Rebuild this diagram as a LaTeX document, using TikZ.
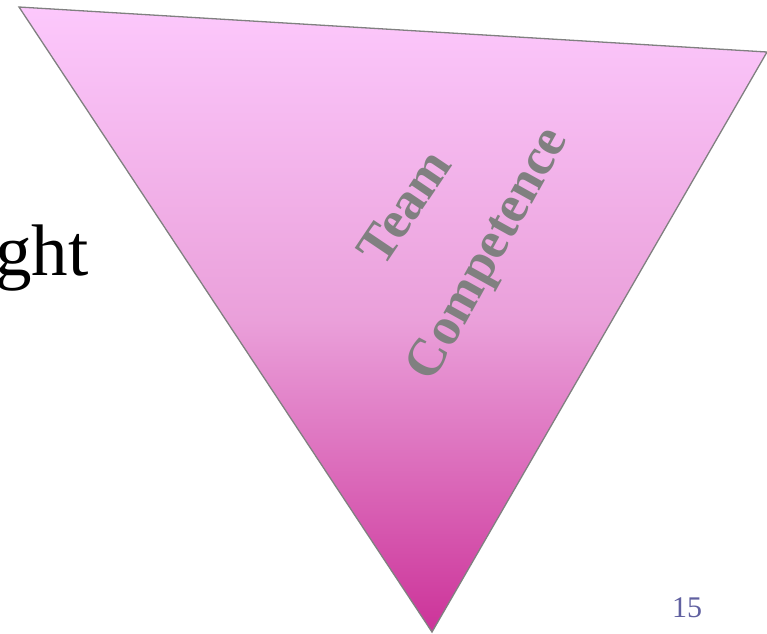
\documentclass[tikz,border=0pt]{standalone}
\usepackage{fontspec}
\setmainfont{Liberation Serif}
\usepackage{xcolor}
\usetikzlibrary{calc}
\definecolor{pinktop}{RGB}{252,200,252}
\definecolor{pinkmid}{RGB}{234,160,218}
\definecolor{pinkbot}{RGB}{204,51,153}
\definecolor{labelgray}{RGB}{128,128,128}
\definecolor{slidenum}{RGB}{96,96,160}
\tikzset{
	wordlabel/.style={text=labelgray,font=\fontsize{53}{57}\selectfont\bfseries,inner sep=0pt},
}

\begin{document}
\begin{tikzpicture}[x=1pt,y=1pt]
		\useasboundingbox (0,0) rectangle (767,-633);
		% corners of the funnel
		\coordinate (tl) at (19,-7);
		\coordinate (tr) at (767,-52);
		\coordinate (bot) at (432,-632);
		\draw[draw=labelgray,line width=1.3pt,top color=pinktop,bottom color=pinkbot,middle color=pinkmid]
			(tl) -- (tr) -- (bot) -- cycle;
		\node[wordlabel,rotate=56] (team) at (404,-207) {Team};
		\node[wordlabel,rotate=61] (comp) at (490,-255) {Competence};
		\node[anchor=base west,inner sep=0pt,font=\fontsize{73}{80}\selectfont] (ght) at (-5,-275) {ght};
		\node[anchor=base west,inner sep=0pt,text=slidenum,font=\fontsize{30}{34}\selectfont] (page) at (672,-617) {15};
	\end{tikzpicture}
\end{document}
